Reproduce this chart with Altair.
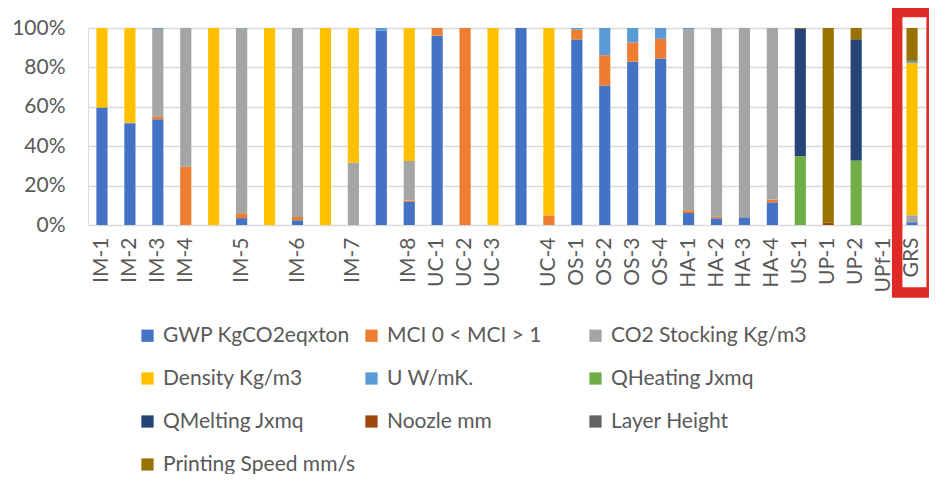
import altair as alt
import pandas as pd

categories = ["IM-1", "IM-2", "IM-3", "IM-4", " ", "IM-5", "  ", "IM-6", "   ", "IM-7",
              "    ", "IM-8", "UC-1", "UC-2", "UC-3", "     ", "UC-4", "OS-1", "OS-2", "OS-3",
              "OS-4", "HA-1", "HA-2", "HA-3", "HA-4", "US-1", "UP-1", "UP-2", "UPf-1", "GRS"]

series = ["GWP KgCO2eqxton", "MCI 0 < MCI > 1", "CO2 Stocking Kg/m3", "Density Kg/m3",
          "U W/mK.", "QHeating Jxmq", "QMelting Jxmq", "Noozle mm", "Layer Height",
          "Printing Speed mm/s"]

colors = ["#4472C4", "#ED7D31", "#A5A5A5", "#FFC000", "#5B9BD5", "#70AD47",
          "#264478", "#9E480E", "#636363", "#997300"]

gwp = [59.6, 51.7, 53.7, 0, 0, 3.5, 0, 2.4, 0, 0, 98.6, 11.7, 96.1, 0, 0, 100, 0, 94.1, 70.8, 82.9,
       84.5, 6.1, 3.4, 3.9, 11.5, 0, 0, 0, 0, 1.4]
mci = [0, 0.3, 1.5, 29.6, 0, 2.5, 0, 1.7, 0, 0, 0, 0.7, 3.9, 100, 0, 0, 4.9, 5.1, 15.4, 9.8,
       10.0, 1.4, 0.8, 0, 1.4, 0, 0, 0, 0, 0]
co2 = [0, 0, 44.4, 70.4, 0, 93.7, 0, 95.9, 0, 31.6, 0, 20.1, 0, 0, 0, 0, 0, 0, 0, 0,
       0, 91.7, 95.8, 96.1, 87.1, 0, 0, 0, 0, 3.5]
density = [40.4, 48.0, 0, 0, 100, 0, 100, 0, 100, 68.4, 0, 67.5, 0, 0, 100, 0, 95.1, 0, 0, 0,
           0, 0, 0, 0, 0, 0, 0, 0, 0, 77.4]
u_val = [0, 0, 0.4, 0, 0, 0.3, 0, 0, 0, 0, 1.4, 0, 0, 0, 0, 0, 0, 0.8, 13.8, 7.3,
         5.5, 0.8, 0, 0, 0, 0, 0, 0, 0, 1.0]
qheating = [0] * 25 + [35.0, 0, 32.8, 0, 0]
qmelting = [0] * 25 + [64.6, 0, 61.5, 0, 0]
noozle = [0] * 25 + [0.4, 1.2, 0, 0, 0]
layer_height = [0] * 30
printing_speed = [0] * 25 + [0, 98.8, 5.7, 0, 16.7]

values = [gwp, mci, co2, density, u_val, qheating, qmelting, noozle, layer_height, printing_speed]
highlight = ["GRS"]

rows = []
for si, name in enumerate(series):
    for ci, cat in enumerate(categories):
        v = values[si][ci]
        if v > 0:
            rows.append({"cat": cat, "series": name, "idx": si, "value": v})
df = pd.DataFrame(rows)

FONT = "Lato"
TXT = "#595959"

bars = alt.Chart(df).mark_bar().encode(
    x=alt.X("cat:N", title="",
            scale=alt.Scale(domain=categories, paddingInner=0.6, paddingOuter=0.3),
            axis=alt.Axis(labelAngle=-90, labelPadding=12, ticks=False, domain=False,
                          labelFontSize=21, labelColor=TXT, labelFont=FONT)),
    y=alt.Y("value:Q", stack="normalize", title="",
            scale=alt.Scale(domain=[0, 1]),
            axis=alt.Axis(values=[0, 0.2, 0.4, 0.6, 0.8, 1.0], format=".0%", ticks=False,
                          domain=False, gridColor="#D9D9D9", gridWidth=1.5,
                          labelPadding=23, labelFontSize=21, labelColor=TXT, labelFont=FONT)),
    color=alt.Color("series:N", title="", sort=series,
                    scale=alt.Scale(domain=series, range=colors),
                    legend=alt.Legend(orient="none", direction="horizontal",
                                      legendX=49, legendY=297, columns=3,
                                      symbolType="square", symbolSize=150, symbolStrokeWidth=0,
                                      labelFontSize=21, labelFont=FONT, labelColor=TXT,
                                      labelOffset=5, rowPadding=21, columnPadding=2,
                                      gridAlign="all", padding=0, labelLimit=400)),
    order=alt.Order("idx:Q", sort="ascending"),
)

box = alt.Chart(pd.DataFrame({"cat": highlight})).mark_bar(
    filled=False, color="#DF2A27", strokeWidth=10.5, width=34.5, xOffset=2.4
).encode(
    x=alt.X("cat:N", title=""),
    y=alt.value(-16),
    y2=alt.value(264.5),
)

chart = alt.layer(bars, box).properties(
    width=838, height=197,
    padding={"left": 80, "top": 20, "right": 3, "bottom": 249},
    autosize=alt.AutoSizeParams(type="none"),
).configure_view(stroke=None).configure(background="white")

chart.save("out.html", embed_options={"renderer": "svg", "actions": False})
